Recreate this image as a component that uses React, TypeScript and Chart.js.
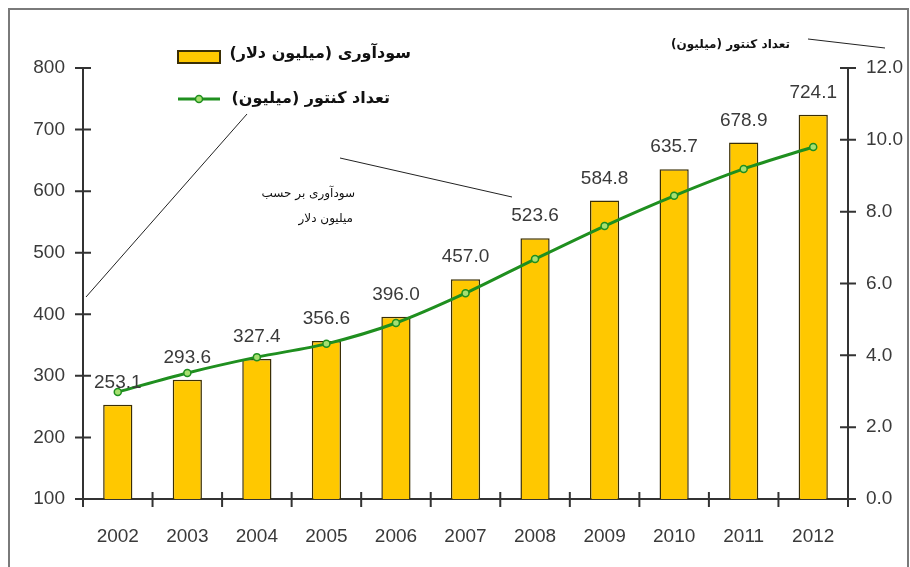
import React, { useEffect, useRef } from "react";
import { Chart, registerables } from "chart.js";

Chart.register(...registerables);

const years = ["2002", "2003", "2004", "2005", "2006", "2007", "2008", "2009", "2010", "2011", "2012"];
const revenue = [253.1, 293.6, 327.4, 356.6, 396.0, 457.0, 523.6, 584.8, 635.7, 678.9, 724.1];
const meters = [2.98, 3.51, 3.95, 4.32, 4.9, 5.73, 6.68, 7.6, 8.44, 9.19, 9.8];
const legendLabels = ["سودآوری (میلیون دلار)", "تعداد کنتور (میلیون)"];
const noteTop = "تعداد کنتور (میلیون)";
const noteMiddle = ["سودآوری بر حسب", "میلیون دلار"];
const leftRange = [100, 800, 100];
const rightRange = [0, 12, 2];

const BAR_FILL = "#FFC800";
const BAR_EDGE = "#3a2e05";
const LINE = "#1f8f1f";
const POINT_FILL = "#a6e070";
const AXIS = "#333333";
const TEXT = "#3a3a3a";
const NUM_FAMILY = "'Liberation Sans', Arial, sans-serif";
const NUM_FONT = "19px " + NUM_FAMILY;
const FA_FONT = "'DejaVu Sans', sans-serif";

const decor = {
  id: "decor",
  beforeDraw(chart: any) {
    const ctx = chart.ctx;
    ctx.save();
    ctx.fillStyle = "#ffffff";
    ctx.fillRect(0, 0, chart.width, chart.height);
    ctx.strokeStyle = "#7a7a7a";
    ctx.lineWidth = 2;
    ctx.beginPath();
    ctx.moveTo(9, chart.height + 5);
    ctx.lineTo(9, 9);
    ctx.lineTo(908, 9);
    ctx.lineTo(908, chart.height + 5);
    ctx.stroke();
    ctx.restore();
  },
  afterDraw(chart: any) {
    const ctx = chart.ctx;
    const area = chart.chartArea;
    const x = chart.scales.x;
    const y = chart.scales.y;
    const y1 = chart.scales.y1;
    ctx.save();
    // crossing ticks
    ctx.strokeStyle = AXIS;
    ctx.lineWidth = 2;
    ctx.beginPath();
    for (let v = leftRange[0]; v <= leftRange[1]; v += leftRange[2]) {
      const py = y.getPixelForValue(v);
      ctx.moveTo(area.left - 8, py);
      ctx.lineTo(area.left + 8, py);
    }
    for (let v = rightRange[0]; v <= rightRange[1]; v += rightRange[2]) {
      const py = y1.getPixelForValue(v);
      ctx.moveTo(area.right - 8, py);
      ctx.lineTo(area.right + 8, py);
    }
    const half = (x.getPixelForValue(1) - x.getPixelForValue(0)) / 2;
    for (let i = 0; i <= years.length; i++) {
      const px = x.getPixelForValue(i) - half;
      ctx.moveTo(px, area.bottom - 7);
      ctx.lineTo(px, area.bottom + 8);
    }
    ctx.stroke();

    // bar value labels
    const barMeta = chart.getDatasetMeta(1);
    ctx.fillStyle = TEXT;
    ctx.font = NUM_FONT;
    ctx.textAlign = "center";
    ctx.textBaseline = "middle";
    barMeta.data.forEach((el: any, i: number) => {
      ctx.fillText(revenue[i].toFixed(1), el.x, el.y - 22);
    });

    // legend
    ctx.fillStyle = BAR_FILL;
    ctx.fillRect(178, 51, 42, 12);
    ctx.strokeStyle = BAR_EDGE;
    ctx.lineWidth = 2;
    ctx.strokeRect(178, 51, 42, 12);
    ctx.strokeStyle = LINE;
    ctx.lineWidth = 3;
    ctx.beginPath();
    ctx.moveTo(178, 99);
    ctx.lineTo(220, 99);
    ctx.stroke();
    ctx.beginPath();
    ctx.arc(199, 99, 3.5, 0, Math.PI * 2);
    ctx.fillStyle = POINT_FILL;
    ctx.fill();
    ctx.lineWidth = 1.5;
    ctx.stroke();

    ctx.fillStyle = "#111";
    ctx.direction = "rtl";
    ctx.textAlign = "right";
    ctx.font = "bold 16px " + FA_FONT;
    ctx.fillText(legendLabels[0], 411, 54);
    ctx.fillText(legendLabels[1], 390, 99);

    // annotations
    ctx.font = "bold 12px " + FA_FONT;
    ctx.fillText(noteTop, 790, 45);
    ctx.font = "12px " + FA_FONT;
    ctx.fillText(noteMiddle[0], 355, 194);
    ctx.fillText(noteMiddle[1], 353, 219);

    ctx.strokeStyle = "#222";
    ctx.lineWidth = 1;
    ctx.beginPath();
    ctx.moveTo(808, 39);
    ctx.lineTo(885, 48);
    ctx.moveTo(340, 158);
    ctx.lineTo(512, 197);
    ctx.moveTo(247, 114);
    ctx.lineTo(86, 297);
    ctx.stroke();
    ctx.restore();
  },
};

export default function App() {
  const ref = useRef<HTMLCanvasElement>(null);
  useEffect(() => {
    if (!ref.current) return;
    const chart = new Chart(ref.current, {
      type: "bar",
      data: {
        labels: years,
        datasets: [
          {
            type: "line",
            label: legendLabels[1],
            data: meters,
            yAxisID: "y1",
            borderColor: LINE,
            borderWidth: 3,
            tension: 0.3,
            pointRadius: 3.5,
            pointBackgroundColor: POINT_FILL,
            pointBorderColor: LINE,
            pointBorderWidth: 1.5,
            order: 0,
          } as any,
          {
            type: "bar",
            label: legendLabels[0],
            data: revenue,
            yAxisID: "y",
            backgroundColor: BAR_FILL,
            borderColor: BAR_EDGE,
            borderWidth: 1.5,
            barPercentage: 0.42,
            categoryPercentage: 1,
            order: 1,
          },
        ],
      },
      options: {
        responsive: false,
        animation: false,
        devicePixelRatio: 1,
        layout: { padding: { top: 68, left: 0, right: 0, bottom: 0 } },
        plugins: { legend: { display: false }, tooltip: { enabled: false } },
        scales: {
          x: {
            offset: true,
            grid: { display: false, drawTicks: false },
            border: { display: true, color: AXIS, width: 2 },
            ticks: { color: TEXT, font: { family: NUM_FAMILY, size: 19 }, padding: 26, maxRotation: 0 },
            afterFit: (s: any) => { s.height = 68; },
          },
          y: {
            position: "left",
            min: leftRange[0],
            max: leftRange[1],
            grid: { display: false, drawTicks: false },
            border: { display: true, color: AXIS, width: 2 },
            ticks: { stepSize: leftRange[2], color: TEXT, font: { family: NUM_FAMILY, size: 19 }, padding: 18 },
            afterFit: (s: any) => { s.width = 83; },
          },
          y1: {
            position: "right",
            min: rightRange[0],
            max: rightRange[1],
            grid: { display: false, drawTicks: false },
            border: { display: true, color: AXIS, width: 2 },
            ticks: {
              stepSize: rightRange[2],
              color: TEXT,
              font: { family: NUM_FAMILY, size: 19 },
              padding: 18,
              callback: (v: any) => Number(v).toFixed(1),
            },
            afterFit: (s: any) => { s.width = 62; },
          },
        },
      },
      plugins: [decor],
    });
    return () => chart.destroy();
  }, []);
  return (
    <div style={{ position: "absolute", left: 0, top: 0, width: 910, height: 567 }}>
      <canvas ref={ref} width={910} height={567} />
    </div>
  );
}
